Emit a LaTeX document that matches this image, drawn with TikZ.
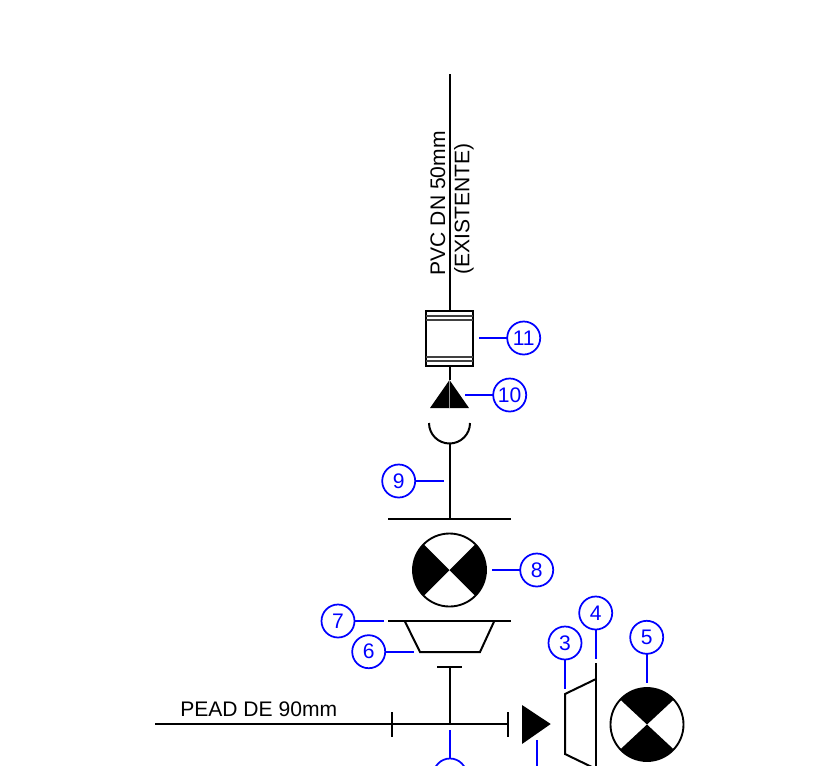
\documentclass[tikz,border=0pt]{standalone}
\usepackage{fontspec}
\setmainfont{Liberation Sans}
\usetikzlibrary{positioning}

\tikzset{
  pipe/.style={draw=black,line width=1.5pt},
  thinpipe/.style={draw=black!40,line width=0.5pt},
  leader/.style={draw=blue,line width=1.3pt},
  callout/.style={circle,draw=blue,line width=1.3pt,text=blue,minimum size=24.75pt,inner sep=0pt,outer sep=0pt,font=\fontsize{15.8}{18}\selectfont},
  ball/.style={circle,draw=black,line width=1.4pt,minimum size=54.75pt,inner sep=0pt,outer sep=0pt},
  label/.style={inner sep=0pt,font=\fontsize{15.8}{18}\selectfont},
}

\begin{document}
\begin{tikzpicture}[x=0.75pt,y=-0.75pt]
      \clip (0,0) rectangle (828,765);
      \fill[white] (0,0) rectangle (828,765);

      \coordinate (pipetop) at (449.5,74);
      \node[draw=black,line width=1.4pt,minimum width=35.25pt,minimum height=41.25pt,inner sep=0pt,outer sep=0pt] (box11) at (449.5,338.5) {};
      \coordinate (coneapex) at (449.5,380);
      \coordinate (coneleft) at (430,408);
      \coordinate (coneright) at (469,408);
      \coordinate (conebase) at (449.5,408);
      \coordinate (cupleft) at (429,423);
      \coordinate (cupbottom) at (449.5,444);
      \coordinate (flangetop) at (449.5,519);
      \coordinate (flangetopl) at (388,519);
      \coordinate (flangetopr) at (510.5,519);
      \coordinate (flangemidl) at (388,621);
      \coordinate (flangemidr) at (510.5,621);
      \coordinate (bartop) at (449.5,667);
      \coordinate (barl) at (437,667);
      \coordinate (barr) at (462,667);
      \coordinate (tee) at (449.5,724);
      \coordinate (pipeleft) at (155,724);
      \coordinate (piperight) at (507.5,724);

      \draw[pipe] (pipetop) -- (box11.north);
      \draw[pipe] (box11.south) -- (coneapex);
      \draw[pipe,draw=black!75] (426,316) -- (473,316);
      \draw[pipe,draw=black!75] (426,320) -- (473,320);
      \draw[pipe,draw=black!75] (426,357) -- (473,357);
      \draw[pipe,draw=black!75] (426,361) -- (473,361);

      \fill (coneapex) -- (coneleft) -- (coneright) -- cycle;
      \draw[thinpipe] (coneapex) -- (conebase);

      \draw[pipe] (cupleft) arc[start angle=180,end angle=0,radius=20.5];
      \draw[pipe] (cupbottom) -- (flangetop);
      \draw[pipe] (flangetopl) -- (flangetopr);

      \node[ball] (ball8) at (449.5,570) {};
      \fill (ball8.center) -- (ball8.135) arc[start angle=225,end angle=135,radius=36.5] -- cycle;
      \fill (ball8.center) -- (ball8.45) arc[start angle=-45,end angle=45,radius=36.5] -- cycle;

      \draw[pipe] (flangemidl) -- (flangemidr);
      \draw[pipe] (404.7,621) -- (420,652) -- (480,652) -- (494.3,621);
      \draw[pipe] (barl) -- (barr);
      \draw[pipe] (bartop) -- (tee);
      \draw[pipe] (pipeleft) -- (piperight);
      \draw[pipe] (392,712) -- (392,737);
      \draw[pipe] (507.5,712) -- (507.5,737);
      \fill (522,705) -- (550.7,724) -- (522,744) -- cycle;

      \draw[pipe] (596,663) -- (596,770);
      \draw[pipe] (596,679) -- (565,694) -- (565,754) -- (596,769);

      \node[ball] (ball5) at (647,724.5) {};
      \fill (ball5.center) -- (ball5.43) arc[start angle=-43,end angle=-137,radius=36.5] -- cycle;
      \fill (ball5.center) -- (ball5.223) arc[start angle=137,end angle=43,radius=36.5] -- cycle;

      \node[callout] (num11) at (523.7,338) {11};
      \node[callout] (num10) at (509.7,395) {10};
      \node[callout] (num9) at (398.7,481) {9};
      \node[callout] (num8) at (536.7,570) {8};
      \node[callout] (num7) at (338,621) {7};
      \node[callout] (num6) at (368.7,651.7) {6};
      \node[callout] (num3) at (565,643) {3};
      \node[callout] (num4) at (595.7,613) {4};
      \node[callout] (num5) at (646.7,637.3) {5};
      \node[callout] (numtee) at (450,775) {};

      \coordinate (end11) at (479,338);
      \coordinate (end10) at (465,395);
      \coordinate (end9) at (444,481);
      \coordinate (end8) at (492,570);
      \coordinate (end7) at (384,621);
      \coordinate (end6) at (414,651.7);
      \coordinate (end3) at (565,689);
      \coordinate (end4) at (595.7,659);
      \coordinate (end5) at (646.7,683);
      \coordinate (endtee) at (450,730);
      \coordinate (checktop) at (536.7,740);
      \coordinate (checkbot) at (536.7,770);

      \draw[leader] (num11) -- (end11);
      \draw[leader] (num10) -- (end10);
      \draw[leader] (num9) -- (end9);
      \draw[leader] (num8) -- (end8);
      \draw[leader] (num7) -- (end7);
      \draw[leader] (num6) -- (end6);
      \draw[leader] (num3) -- (end3);
      \draw[leader] (num4) -- (end4);
      \draw[leader] (num5) -- (end5);
      \draw[leader] (numtee) -- (endtee);
      \draw[leader] (checktop) -- (checkbot);

      \node[label,rotate=90,anchor=south west] (pvc) at (445.5,275.5) {PVC DN 50mm};
      \node[label,rotate=90,anchor=south west] (existente) at (474,274.5) {(EXISTENTE)};
      \node[label,anchor=base west] (pead) at (180,716) {PEAD DE 90mm};
\end{tikzpicture}
\end{document}
